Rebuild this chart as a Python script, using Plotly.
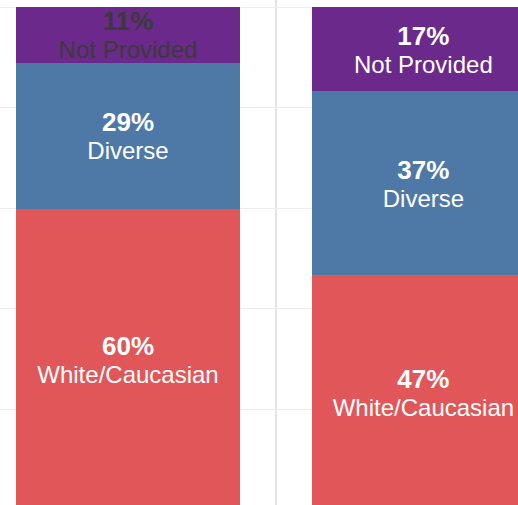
import plotly.graph_objects as go

# ---- data ----
groups = ["Group 1", "Group 2"]
series_names = ["White/Caucasian", "Diverse", "Not Provided"]
white_caucasian = [59.8, 46.6]
diverse = [29.1, 36.6]
not_provided = [11.1, 16.8]

colors = ["#E15759", "#4E79A7", "#6B2A8B"]
text_colors = [["#ffffff", "#ffffff"], ["#ffffff", "#ffffff"], ["#3a3a3a", "#ffffff"]]

x_pos = list(range(len(groups)))
font_family = "Liberation Sans, Arial, sans-serif"

fig = go.Figure()
for name, vals, col, tcol in zip(series_names, [white_caucasian, diverse, not_provided], colors, text_colors):
    labels = [
        f"<span style='font-size:26px'><b>{round(v)}%</b></span><br><span style='font-size:24px'>{name}</span>"
        for v in vals
    ]
    fig.add_trace(go.Bar(
        x=x_pos, y=vals, name=name,
        marker=dict(color=col, line=dict(width=0)),
        width=0.756,
        text=labels,
        textposition="inside",
        insidetextanchor="middle",
        constraintext="none",
        textangle=0,
        textfont=dict(family=font_family, size=21.5, color=tcol),
        hoverinfo="skip",
    ))

fig.update_layout(
    barmode="stack",
    width=518, height=505,
    margin=dict(l=0, r=0, t=0, b=0, pad=0),
    paper_bgcolor="white", plot_bgcolor="white",
    showlegend=False,
    font=dict(family=font_family),
)
fig.update_xaxes(
    range=[-0.4333, 1.3203],
    tickvals=[-0.5, 0.5, 1.5],
    showticklabels=False, ticks="",
    showgrid=True, gridcolor="#e3e3e3", gridwidth=2,
    zeroline=False, showline=False,
)
fig.update_yaxes(
    range=[0.895, 101.4],
    tick0=0, dtick=20,
    showticklabels=False, ticks="",
    showgrid=True, gridcolor="#ececec", gridwidth=1,
    zeroline=False, showline=False,
)

fig.write_html(
    "out.html",
    config={"displayModeBar": False},
    post_script="document.body.style.margin='0';document.body.style.overflow='hidden';",
)
